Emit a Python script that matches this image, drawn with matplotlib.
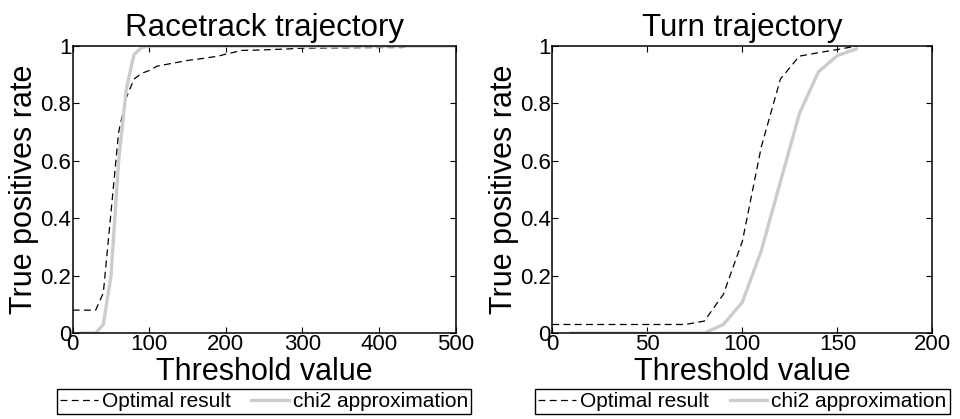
import matplotlib
matplotlib.use("Agg")
import matplotlib.pyplot as plt

plt.rcParams['font.family'] = ['Liberation Sans', 'DejaVu Sans']

# Racetrack trajectory: true positive rate vs threshold
race_opt_x = [0, 10, 20, 30, 40, 50, 60, 70, 80, 90, 100, 110, 120, 130, 150,
              170, 190, 200, 210, 220, 240, 260, 280, 300, 350, 400, 430, 440, 500]
race_opt_y = [0.08, 0.08, 0.08, 0.08, 0.14, 0.42, 0.70, 0.82, 0.885, 0.905, 0.915,
              0.93, 0.935, 0.94, 0.95, 0.957, 0.965, 0.972, 0.978, 0.985, 0.986,
              0.988, 0.99, 0.993, 0.994, 0.995, 0.995, 1.0, 1.0]
race_chi_x = [10, 20, 30, 40, 50, 60, 70, 80, 90, 100, 200, 300, 400, 500]
race_chi_y = [0.0, 0.0, 0.0, 0.03, 0.2, 0.6, 0.85, 0.97, 0.995, 1.0, 1.0, 1.0, 1.0, 1.0]

# Turn trajectory
turn_opt_x = [0, 10, 20, 30, 40, 50, 60, 70, 80, 90, 100, 110, 120, 130, 140, 150, 160]
turn_opt_y = [0.03, 0.03, 0.03, 0.03, 0.03, 0.03, 0.03, 0.03, 0.042, 0.135, 0.32,
              0.65, 0.885, 0.965, 0.977, 0.988, 1.0]
turn_chi_x = [10, 20, 30, 40, 50, 60, 70, 80, 90, 100, 110, 120, 130, 140, 150, 160]
turn_chi_y = [0.0, 0.0, 0.0, 0.0, 0.0, 0.0, 0.0, 0.0, 0.03, 0.108, 0.288, 0.527,
              0.765, 0.91, 0.967, 0.99]

y_ticks = [0, 0.2, 0.4, 0.6, 0.8, 1]
y_tick_labels = ['0', '0.2', '0.4', '0.6', '0.8', '1']

panels = [
    ("Racetrack trajectory", race_opt_x, race_opt_y, race_chi_x, race_chi_y,
     [0, 100, 200, 300, 400, 500], [0.0757, 0.205, 0.399, 0.685]),
    ("Turn trajectory", turn_opt_x, turn_opt_y, turn_chi_x, turn_chi_y,
     [0, 50, 100, 150, 200], [0.5753, 0.205, 0.396, 0.685]),
]

fig = plt.figure(figsize=(9.6, 4.19), dpi=100)

for title, ox, oy, cx, cy, xt, pos in panels:
    ax = fig.add_axes(pos)
    ax.plot(ox, oy, color='black', linestyle=(0, (5.5, 3.5)), linewidth=0.9,
            label='Optimal result')
    ax.plot(cx, cy, color='#cccccc', linewidth=2.4, label='chi2 approximation')
    ax.set_xlim(xt[0], xt[-1])
    ax.set_ylim(0, 1)
    ax.set_xticks(xt)
    ax.set_xticklabels([str(v) for v in xt])
    ax.set_yticks(y_ticks)
    ax.set_yticklabels(y_tick_labels)
    ax.tick_params(direction='in', top=True, right=True, length=4, width=0.8,
                   labelsize=16, pad=1)
    for s in ax.spines.values():
        s.set_linewidth(1.1)
    ax.set_title(title, fontsize=22.5, pad=7)
    ax.set_xlabel("Threshold value", fontsize=22, labelpad=1)
    ax.set_ylabel("True positives rate", fontsize=22, labelpad=1)
    cxf = pos[0] + pos[2] / 2
    fig.legend(*ax.get_legend_handles_labels(), loc='center',
               bbox_to_anchor=(cxf, 0.042), ncol=2, fontsize=15,
               frameon=True, fancybox=False, framealpha=1, edgecolor='black',
               handlelength=1.8, handletextpad=0.2, columnspacing=1.0,
               borderpad=0.15, borderaxespad=0)

fig.savefig("out.png", dpi=100)
